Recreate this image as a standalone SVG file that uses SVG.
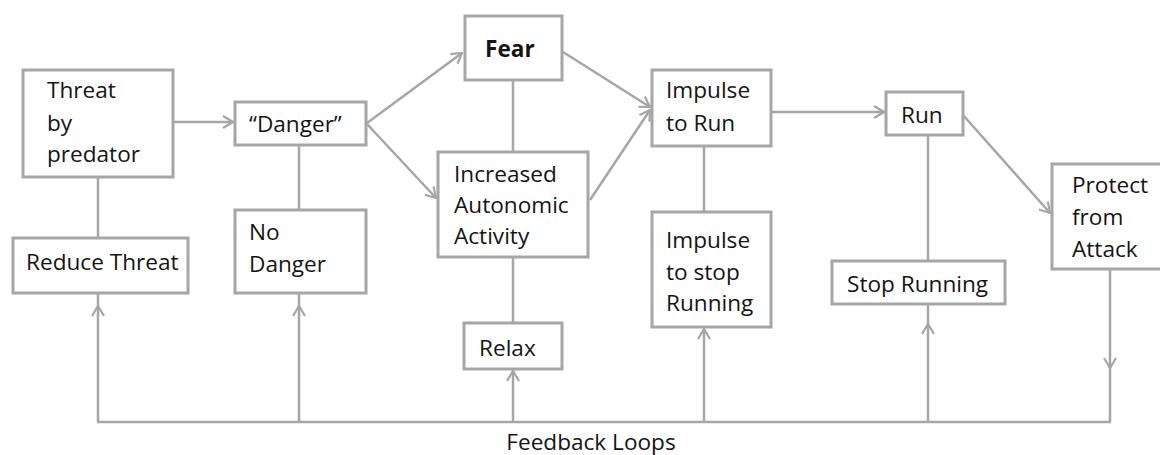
<svg xmlns="http://www.w3.org/2000/svg" width="1160" height="455" viewBox="0 0 1160 455">
  <style>
    .box { fill: #ffffff; stroke: #a6a6a6; stroke-width: 3; }
    .lbl { font-family: "Open Sans", Lato, "Liberation Sans", sans-serif; font-size: 22.6px; fill: #141414; }
    .bold { font-weight: bold; }
    .wire { fill: none; stroke: #a6a6a6; stroke-width: 2.5; }
  </style>
  <defs>
    <marker id="chev" viewBox="0 0 12 14" refX="11" refY="7" markerWidth="12" markerHeight="14" markerUnits="userSpaceOnUse" orient="auto">
      <path d="M1,1 L11,7 L1,13" fill="none" stroke="#a6a6a6" stroke-width="2.2"/>
    </marker>
  </defs>

  <g id="connectors">
    <!-- main flow -->
    <path class="wire" d="M173,122 H233" marker-end="url(#chev)"/>
    <path class="wire" d="M367,123 L462,53" marker-end="url(#chev)"/>
    <path class="wire" d="M367,124 L436,198" marker-end="url(#chev)"/>
    <path class="wire" d="M563,52 L650,107" marker-end="url(#chev)"/>
    <path class="wire" d="M590,200 L650,110" marker-end="url(#chev)"/>
    <path class="wire" d="M771,112 H884" marker-end="url(#chev)"/>
    <path class="wire" d="M963,115 L1050,213" marker-end="url(#chev)"/>
    <!-- vertical ties -->
    <path class="wire" d="M98,177 V238"/>
    <path class="wire" d="M299,145 V210"/>
    <path class="wire" d="M513,80 V152"/>
    <path class="wire" d="M513,257 V323"/>
    <path class="wire" d="M704,146 V212"/>
    <path class="wire" d="M928,135 V261"/>
    <!-- feedback bus -->
    <path class="wire" d="M97,422 H1111"/>
    <path class="wire" d="M98,422 V306" marker-end="url(#chev)"/>
    <path class="wire" d="M98,306 V293"/>
    <path class="wire" d="M299,422 V306" marker-end="url(#chev)"/>
    <path class="wire" d="M299,306 V293"/>
    <path class="wire" d="M513,422 V371" marker-end="url(#chev)"/>
    <path class="wire" d="M704,422 V329" marker-end="url(#chev)"/>
    <path class="wire" d="M928,422 V324" marker-end="url(#chev)"/>
    <path class="wire" d="M928,324 V305"/>
    <path class="wire" d="M1110,270 V368" marker-end="url(#chev)"/>
    <path class="wire" d="M1110,368 V422"/>
  </g>

  <g id="threat">
    <rect class="box" x="23" y="70" width="150" height="107"/>
    <text class="lbl" x="47" y="98">Threat</text>
    <text class="lbl" x="47" y="131">by</text>
    <text class="lbl" x="47" y="162">predator</text>
  </g>
  <g id="reduce-threat">
    <rect class="box" x="13" y="238" width="175" height="55"/>
    <text class="lbl" x="26" y="270">Reduce Threat</text>
  </g>
  <g id="danger">
    <rect class="box" x="235" y="102" width="131" height="43"/>
    <text class="lbl" x="249" y="132">“Danger”</text>
  </g>
  <g id="no-danger">
    <rect class="box" x="235" y="210" width="131" height="83"/>
    <text class="lbl" x="249" y="240">No</text>
    <text class="lbl" x="249" y="272">Danger</text>
  </g>
  <g id="fear">
    <rect class="box" x="465" y="16" width="97" height="64"/>
    <text class="lbl bold" x="485" y="57">Fear</text>
  </g>
  <g id="autonomic">
    <rect class="box" x="438" y="152" width="150" height="105"/>
    <text class="lbl" x="454" y="182">Increased</text>
    <text class="lbl" x="454" y="213">Autonomic</text>
    <text class="lbl" x="454" y="244">Activity</text>
  </g>
  <g id="relax">
    <rect class="box" x="464" y="323" width="98" height="46"/>
    <text class="lbl" x="479" y="356">Relax</text>
  </g>
  <g id="impulse-run">
    <rect class="box" x="652" y="70" width="119" height="76"/>
    <text class="lbl" x="666" y="98">Impulse</text>
    <text class="lbl" x="666" y="131">to Run</text>
  </g>
  <g id="impulse-stop">
    <rect class="box" x="652" y="212" width="119" height="115"/>
    <text class="lbl" x="666" y="248">Impulse</text>
    <text class="lbl" x="666" y="280">to stop</text>
    <text class="lbl" x="666" y="311">Running</text>
  </g>
  <g id="run">
    <rect class="box" x="886" y="92" width="77" height="43"/>
    <text class="lbl" x="901" y="123">Run</text>
  </g>
  <g id="stop-running">
    <rect class="box" x="832" y="261" width="173" height="43"/>
    <text class="lbl" x="847" y="292">Stop Running</text>
  </g>
  <g id="protect">
    <rect class="box" x="1052" y="164" width="112" height="105"/>
    <text class="lbl" x="1072" y="193">Protect</text>
    <text class="lbl" x="1072" y="225">from</text>
    <text class="lbl" x="1072" y="257">Attack</text>
  </g>

  <text id="feedback-label" class="lbl" x="591" y="450" text-anchor="middle">Feedback Loops</text>
</svg>
